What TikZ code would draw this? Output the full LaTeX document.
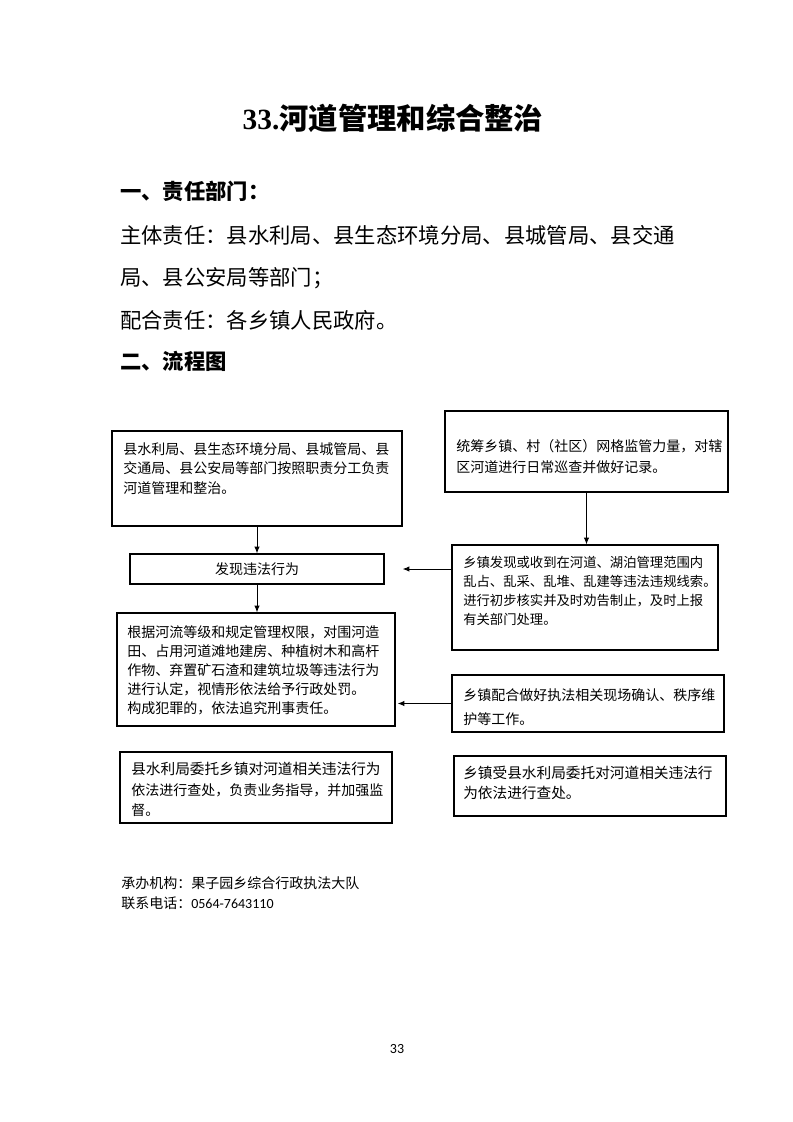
\documentclass[tikz,border=0pt]{standalone}
\usepackage{fontspec}
\setmainfont{Liberation Serif}
\newfontfamily\cjk{Noto Sans CJK SC}
\newfontfamily\calib{Carlito}
\usetikzlibrary{arrows.meta}
\begin{document}
\begin{tikzpicture}[x=0.75pt,y=-0.75pt,
  box/.style={draw, line width=0.9pt, inner sep=0pt},
  txt/.style={anchor=north west, align=left, inner sep=0pt},
  f105/.style={font=\cjk\fontsize{10.5pt}{14.6pt}\selectfont},
  arr/.style={line width=0.75pt, -{Latex[length=5pt,width=4pt]}},
  head/.style={anchor=west, inner sep=0pt, font=\cjk\bfseries\fontsize{16pt}{20pt}\selectfont},
  bodyl/.style={anchor=west, inner sep=0pt, font=\cjk\fontsize{16pt}{20pt}\selectfont},
  foot/.style={anchor=west, inner sep=0pt, font=\cjk\fontsize{10.5pt}{13pt}\selectfont}]
\useasboundingbox (0,0) rectangle (793,1122);

% title and headings
\node (title) at (393,118) {\fontsize{22pt}{26pt}\selectfont\bfseries 33.{\cjk\bfseries 河道管理和综合整治}};
\node[head] (h1) at (120,191) {一、责任部门：};
\node[bodyl] (l1) at (120,235) {主体责任：县水利局、县生态环境分局、县城管局、县交通};
\node[bodyl] (l2) at (120,278) {局、县公安局等部门；};
\node[bodyl] (l3) at (120,320) {配合责任：各乡镇人民政府。};
\node[head] (h2) at (120,361) {二、流程图};

% boxes
\node[box, minimum width=217.5pt, minimum height=71.25pt] (A) at (257,478.5) {};
\node[box, minimum width=190.5pt, minimum height=22.5pt, f105] (B) at (257,569) {发现违法行为};
\node[box, minimum width=212.25pt, minimum height=60.75pt] (C) at (586.5,451.5) {};
\node[box, minimum width=199.5pt, minimum height=78.75pt] (D) at (585,597.5) {};
\node[box, minimum width=208.5pt, minimum height=84.75pt] (E) at (256,669.5) {};
\node[box, minimum width=204pt, minimum height=42.75pt] (F) at (588,703.5) {};
\node[box, minimum width=204pt, minimum height=45pt] (G) at (590,786) {};
\node[box, minimum width=204pt, minimum height=53.25pt] (H) at (256,787.5) {};

% box texts
\node[txt, f105] (At) at (123,442) {县水利局、县生态环境分局、县城管局、县\\交通局、县公安局等部门按照职责分工负责\\河道管理和整治。};
\node[txt, font=\cjk\fontsize{10.5pt}{15.75pt}\selectfont] (Ct) at (456,439) {统筹乡镇、村（社区）网格监管力量，对辖\\区河道进行日常巡查并做好记录。};
\node[txt, font=\cjk\fontsize{10pt}{14.25pt}\selectfont] (Dt) at (463,556) {乡镇发现或收到在河道、湖泊管理范围内\\乱占、乱采、乱堆、乱建等违法违规线索。\\进行初步核实并及时劝告制止，及时上报\\有关部门处理。};
\node[txt, font=\cjk\fontsize{10.5pt}{14.25pt}\selectfont] (Et) at (127,625) {根据河流等级和规定管理权限，对围河造\\田、占用河道滩地建房、种植树木和高杆\\作物、弃置矿石渣和建筑垃圾等违法行为\\进行认定，视情形依法给予行政处罚。\\构成犯罪的，依法追究刑事责任。};
\node[txt, font=\cjk\fontsize{10.5pt}{18pt}\selectfont] (Ft) at (463,688) {乡镇配合做好执法相关现场确认、秩序维\\护等工作。};
\node[txt, font=\cjk\fontsize{11pt}{15pt}\selectfont] (Gt) at (463,766) {乡镇受县水利局委托对河道相关违法行\\为依法进行查处。};
\node[txt, font=\cjk\fontsize{10.5pt}{15.4pt}\selectfont] (Ht) at (131,762) {{\fontsize{11pt}{15.4pt}\selectfont 县水利局委托乡镇对河道相关违法行为}\\依法进行查处，负责业务指导，并加强监\\督。};

% connectors
\coordinate (Btip) at ([xshift=13.5pt]B.east);
\coordinate (Etip) at ([xshift=1.5pt]E.east);
\draw[arr] (A.south) -- (B.north);
\draw[arr] (B.south) -- (B.south |- E.north);
\draw[arr] (C.south) -- (C.south |- D.north);
\draw[arr] (D.west |- B.east) -- (Btip);
\draw[arr] (F.west) -- (Etip |- F.west);

% footer
\node[foot] (f1) at (121,883) {承办机构：果子园乡综合行政执法大队};
\node[foot] (f2) at (121,903) {联系电话：{\calib 0564-7643110}};
\node (pg) at (397,1049) {\calib\fontsize{10.5pt}{12pt}\selectfont 33};
\end{tikzpicture}
\end{document}
